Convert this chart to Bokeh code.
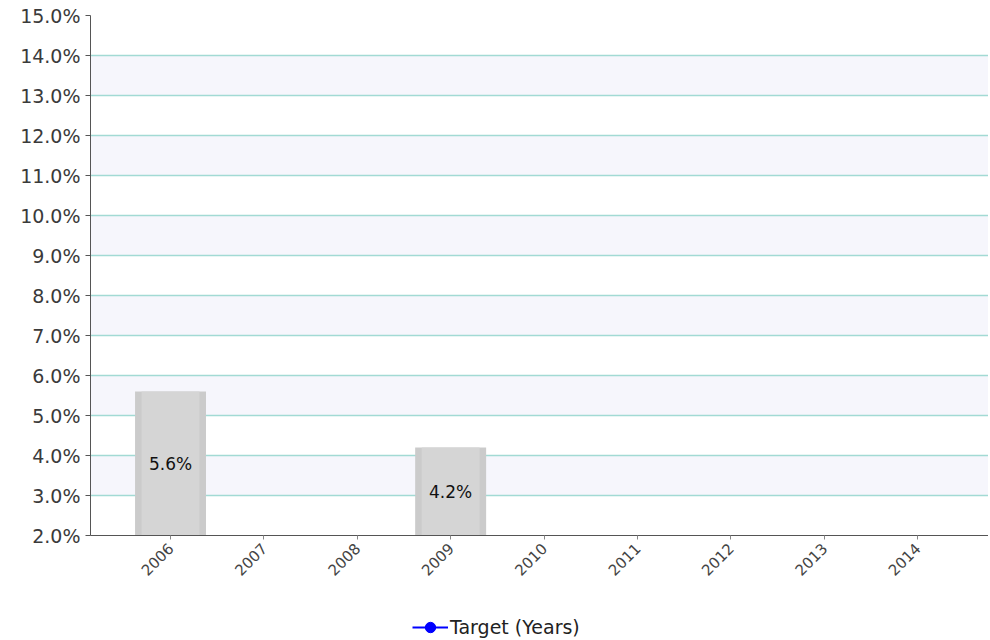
from bokeh.plotting import figure
from bokeh.layouts import column
from bokeh.models import Range1d, FixedTicker, NumeralTickFormatter, Legend, LegendItem, ColumnDataSource, LabelSet
from bokeh.embed import file_html
from bokeh.resources import INLINE
from bokeh.core.properties import value
import math

years = ["2006", "2007", "2008", "2009", "2010", "2011", "2012", "2013", "2014"]
bar_years = ["2006", "2009"]
bar_values = [0.056, 0.042]
bar_labels = ["5.6%", "4.2%"]
target_years = ["2006"]
target_values = [float("nan")]  # Target (Years) series has no visible points

idx = {y: i for i, y in enumerate(years)}
bar_x = [idx[y] for y in bar_years]
bar_mid = [(0.02 + v) / 2 for v in bar_values]

p = figure(width=988, height=590, output_backend="svg", toolbar_location=None,
           x_range=Range1d(-0.857, 8.76), y_range=Range1d(0.02, 0.15),
           min_border_left=90, min_border_right=0, min_border_top=15, min_border_bottom=55)
p.outline_line_color = None
p.background_fill_color = "white"

# grid
p.xgrid.grid_line_color = None
p.ygrid.ticker = FixedTicker(ticks=[0.02 + 0.01 * i for i in range(14)])
p.ygrid.grid_line_color = "#a2dad4"
p.ygrid.grid_line_width = 1.5
p.ygrid.band_fill_color = "#eeeef9"
p.ygrid.band_fill_alpha = 0.5

src = ColumnDataSource(dict(x=bar_x, top=bar_values, mid=bar_mid, label=bar_labels))
p.vbar(x="x", top="top", bottom=0.0, width=0.76, source=src,
       fill_color="#cbcbcb", line_color=None)
p.vbar(x="x", top="top", bottom=0.0, width=0.62, source=src,
       fill_color="#d5d5d5", line_color=None)

labels = LabelSet(x="x", y="mid", text="label", source=src, text_align="center",
                  text_baseline="middle", text_font=value("DejaVu Sans"),
                  text_font_size="17px", text_color="#111111")
p.add_layout(labels)

# axes
p.yaxis.ticker = FixedTicker(ticks=[0.02 + 0.01 * i for i in range(14)])
p.yaxis.formatter = NumeralTickFormatter(format="0.0%")
p.yaxis.major_label_text_font = "DejaVu Sans"
p.yaxis.major_label_text_font_size = "19px"
p.yaxis.major_label_text_color = "#3a3a3a"
p.yaxis.axis_line_color = "#555555"
p.yaxis.major_tick_line_color = "#555555"
p.yaxis.major_tick_out = 5
p.yaxis.major_tick_in = 0
p.yaxis.minor_tick_line_color = None
p.yaxis.major_label_standoff = 5

p.xaxis.ticker = FixedTicker(ticks=list(range(len(years))))
p.xaxis.major_label_overrides = {i: y for i, y in enumerate(years)}
p.xaxis.major_label_orientation = math.pi / 4
p.xaxis.major_label_text_font = "DejaVu Sans"
p.xaxis.major_label_text_font_size = "15px"
p.xaxis.major_label_text_color = "#444444"
p.xaxis.axis_line_color = "#555555"
p.xaxis.major_tick_line_color = "#888888"
p.xaxis.major_tick_out = 4
p.xaxis.major_tick_in = 0
p.xaxis.minor_tick_line_color = None
p.xaxis.major_label_standoff = 6

# legend strip: Target (Years) series (no visible points)
p2 = figure(width=988, height=50, output_backend="svg", toolbar_location=None,
            x_axis_location=None, y_axis_location=None,
            x_range=Range1d(0, 1), y_range=Range1d(0, 1),
            min_border_left=0, min_border_right=0, min_border_top=0, min_border_bottom=0)
p2.outline_line_color = None
p2.xgrid.grid_line_color = None
p2.ygrid.grid_line_color = None
tsrc = ColumnDataSource(dict(x=[idx[y] for y in target_years], y=target_values))
ln = p2.line(x="x", y="y", source=tsrc, line_color="#0000ff", line_width=2)
sc = p2.scatter(x="x", y="y", source=tsrc, marker="circle", size=13,
                fill_color="#0000ff", line_color="#0000ff")
legend = Legend(items=[LegendItem(label="Target (Years)", renderers=[ln, sc], index=0)],
                location=(322, 0), orientation="horizontal",
                label_text_font="DejaVu Sans", label_text_font_size="19px",
                label_text_color="#222222", border_line_color=None,
                background_fill_alpha=0, glyph_width=36, glyph_height=26,
                label_standoff=2, label_height=22, padding=0, margin=0)
p2.add_layout(legend, "center")

open("out.html", "w").write(file_html(column(p, p2), INLINE))
